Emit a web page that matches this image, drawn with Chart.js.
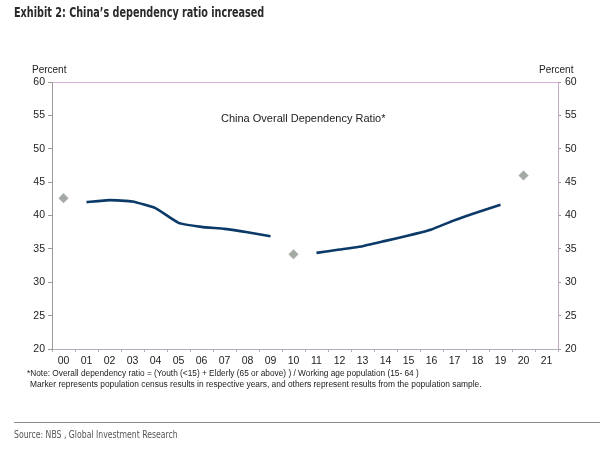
<!DOCTYPE html>
<html>
<head>
<meta charset="utf-8">
<script src="https://cdn.jsdelivr.net/npm/chart.js@4"></script>
<style>
  html, body { margin:0; padding:0; background:#fff; }
  #wrap { position:relative; width:611px; height:450px; overflow:hidden; }
  canvas { position:absolute; left:0; top:0; }
  .t { position:absolute; white-space:nowrap; font-family:"Liberation Sans", Arial, sans-serif; color:#222; }
  #title { left:14px; top:4px; font-family:"Liberation Sans Narrow","DejaVu Sans Condensed","Liberation Sans",sans-serif; font-stretch:condensed; font-weight:bold; font-size:14.5px; color:#2a2a2a; transform:scaleX(0.74); transform-origin:0 0; }
  #pl { left:32px; top:64px; font-size:10px; }
  #pr { left:539px; top:64px; font-size:10px; }
  #inner { left:221px; top:112px; font-size:11px; }
  #n1 { left:27px; top:368px; font-size:8.3px; }
  #n2 { left:30px; top:379px; font-size:8.4px; }
  #rule { position:absolute; left:14px; top:422px; width:586px; height:0; border-top:1px solid #8a8a8a; }
  #src { left:14px; top:429px; font-family:"Liberation Sans Narrow","DejaVu Sans Condensed","Liberation Sans",sans-serif; font-stretch:condensed; font-size:10px; color:#555; transform:scaleX(0.86); transform-origin:0 0; }
</style>
</head>
<body>
<div id="wrap">
  <canvas id="c" width="611" height="450"></canvas>
  <div class="t" id="title">Exhibit 2: China’s dependency ratio increased</div>
  <div class="t" id="pl">Percent</div>
  <div class="t" id="pr">Percent</div>
  <div class="t" id="inner">China Overall Dependency Ratio*</div>
  <div class="t" id="n1">*Note: Overall dependency ratio = (Youth (&lt;15) + Elderly (65 or above) ) / Working age population (15- 64 )</div>
  <div class="t" id="n2">Marker represents population census results in respective years, and others represent results from the population sample.</div>
  <div id="rule"></div>
  <div class="t" id="src">Source: NBS , Global Investment Research</div>
</div>
<script>
const years = ['00','01','02','03','04','05','06','07','08','09','10','11','12','13','14','15','16','17','18','19','20','21'];
const sampleRatio = [null,42.0,42.3,42.1,41.1,38.9,38.3,38.0,37.5,36.9,null,34.4,34.9,35.4,36.2,37.0,37.9,39.3,40.5,41.6,null,null];
const censusRatio = [42.6,null,null,null,null,null,null,null,null,null,34.2,null,null,null,null,null,null,null,null,null,46.0,null];
const yTicks = [20,25,30,35,40,45,50,55,60];

const tickFont = { family: '"Liberation Sans", Arial, sans-serif', size: 10.5 };

new Chart(document.getElementById('c'), {
  type: 'line',
  data: {
    labels: years,
    datasets: [
      {
        label: 'Sample',
        data: sampleRatio,
        borderColor: '#0b3a68',
        backgroundColor: '#0b3a68',
        borderWidth: 2.6,
        pointRadius: 0,
        tension: 0.12,
        spanGaps: false,
        yAxisID: 'y'
      },
      {
        label: 'Census',
        data: censusRatio,
        showLine: false,
        pointStyle: 'rectRot',
        pointRadius: 4.8,
        pointBackgroundColor: '#a3aaa3',
        pointBorderColor: '#b0a8b0',
        pointBorderWidth: 0.5,
        yAxisID: 'y'
      }
    ]
  },
  options: {
    responsive: false,
    animation: false,
    devicePixelRatio: 1,
    layout: { padding: { top: 82, left: 0, right: 0, bottom: 0 } },
    plugins: { legend: { display: false }, tooltip: { enabled: false }, title: { display: false } },
    scales: {
      x: {
        type: 'category',
        offset: true,
        grid: { display: true, drawOnChartArea: false, drawTicks: true, tickLength: 3, color: '#b0b0b0', offset: true },
        border: { display: true, color: '#aab0c0', dash: [1, 1], width: 1 },
        ticks: { font: tickFont, color: '#222', padding: 3, maxRotation: 0, autoSkip: false },
        afterFit: s => { s.height = 101; }
      },
      y: {
        position: 'left',
        min: 20, max: 60,
        afterBuildTicks: s => { s.ticks = yTicks.map(v => ({ value: v })); },
        grid: {
          drawTicks: true, tickLength: 4,
          color: c => (c.tick && c.tick.value === 60) ? '#d4b0d4' : 'rgba(0,0,0,0)',
          tickColor: '#999'
        },
        border: { display: true, color: '#9a9a9a', width: 1 },
        ticks: { font: tickFont, color: '#222', padding: 3 },
        afterFit: s => { s.width = 52; }
      },
      y2: {
        position: 'right',
        min: 20, max: 60,
        afterBuildTicks: s => { s.ticks = yTicks.map(v => ({ value: v })); },
        grid: { drawOnChartArea: false, drawTicks: true, tickLength: 3, tickColor: '#999' },
        border: { display: true, color: '#c4a8c4', dash: [2, 1], width: 1 },
        ticks: { font: tickFont, color: '#222', padding: 4 },
        afterFit: s => { s.width = 53; }
      }
    }
  }
});
</script>
</body>
</html>
